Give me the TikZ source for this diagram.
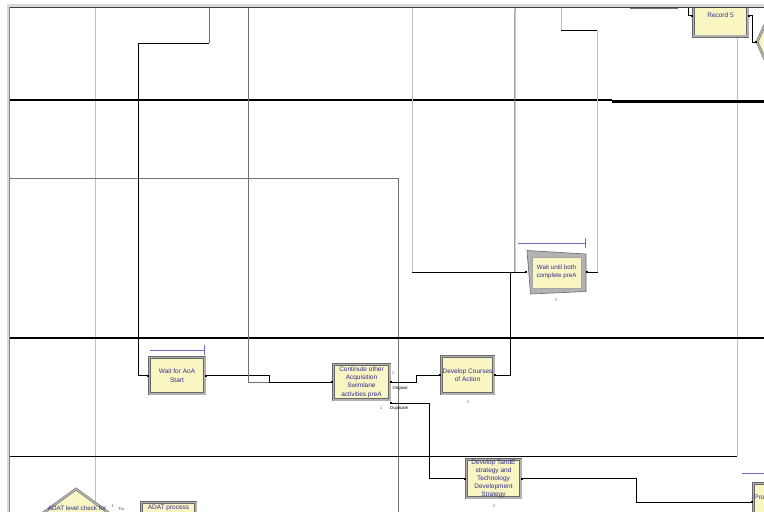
\documentclass[tikz,border=0pt]{standalone}
\usepackage{fontspec}
\setmainfont{Liberation Sans}
\usetikzlibrary{arrows.meta,calc}
\definecolor{boxfill}{RGB}{250,246,196}
\definecolor{boxedge}{RGB}{105,105,105}
\definecolor{boxmid}{RGB}{178,178,178}
\definecolor{txtblue}{RGB}{45,45,140}
\definecolor{qblue}{RGB}{110,110,200}
\definecolor{cntred}{RGB}{210,90,90}
\definecolor{lightln}{RGB}{192,192,192}
\definecolor{midln}{RGB}{115,115,115}
\definecolor{band}{RGB}{218,218,218}
\tikzset{
  modbox/.style={rectangle, fill=boxfill, draw=boxedge, double=boxmid, double distance=1.6pt,
    line width=0.5pt, inner sep=0pt, text=txtblue, font=\fontsize{6.5}{8}\selectfont, align=center},
  cline/.style={draw=black, line width=0.75pt},
  conn/.style={cline, arrows={-Square[length=1.8pt,width=1.8pt]}},
  connboth/.style={cline, arrows={Square[length=1.8pt,width=1.8pt]-Square[length=1.8pt,width=1.8pt]}},
  lane/.style={line width=1pt},
  qline/.style={draw=qblue, line width=0.8pt},
  cnt/.style={text=cntred, font=\fontsize{4}{4}\selectfont, inner sep=0pt},
  one/.style={text=qblue, font=\fontsize{4.5}{5}\selectfont, inner sep=0pt},
  tiny/.style={text=black, font=\fontsize{4.3}{5}\selectfont, inner sep=0pt, anchor=west},
}
\begin{document}
\begin{tikzpicture}[x=1pt,y=-1pt]
\useasboundingbox (0,0) rectangle (764,512);
\clip (0,0) rectangle (764,512);
\fill[white] (0,0) rectangle (764,512);

% swimlane lines
\draw[lightln, lane] (95,7) -- (95,512);
\draw[midln, lane] (10,178) -- (398,178) -- (398,512);
\draw[lightln, lane] (737,7) -- (737,456);
\draw[black, line width=0.8pt] (10,456) -- (737,456);
\draw[black, line width=2.2pt] (10,100) -- (612,100);
\draw[black, line width=2.2pt] (612,101.5) -- (764,101.5);
\draw[black, line width=2.2pt] (10,338) -- (764,338);
\draw[midln, line width=2pt] (630,7.5) -- (678,7.5);

% free connector ends at the top
\coordinate (t1) at (209,7);
\coordinate (t2) at (248,7);
\coordinate (t3) at (412,7);
\coordinate (t4) at (515,7);
\coordinate (t5) at (561,7);
\coordinate (t6) at (688,7);

% modules
\node[modbox, minimum width=55.4pt, minimum height=36.4pt, font=\fontsize{6.5}{9.5}\selectfont] (waitaoa) at (177,375.5) {Wait for AoA\\Start};
\node[modbox, minimum width=56.4pt, minimum height=35.4pt, font=\fontsize{6.5}{8.3}\selectfont] (cont) at (361.5,382) {Continute other\\Acquisition\\Swimlane\\activities preA};
\node[modbox, minimum width=52.4pt, minimum height=37.4pt] (devca) at (467.5,375) {Develop Courses\\of Action};
\node[modbox, minimum width=54.4pt, minimum height=38.4pt] (devte) at (493.5,478.5) {Develop TandE\\strategy and\\Technology\\Development\\Strategy};
\node[modbox, minimum width=54.4pt, minimum height=41.4pt] (rec5) at (720.5,15.5) {Record 5};
\node[modbox, minimum width=55.4pt, minimum height=37.4pt] (pro) at (781,502) {};
\node[anchor=west, inner sep=0pt, text=txtblue, font=\fontsize{6.5}{8}\selectfont] (protxt) at (754,497.5) {Pro};
\node[modbox, minimum width=54.4pt, minimum height=37.4pt] (adatp) at (168.5,521) {};
\node[inner sep=0pt, text=txtblue, font=\fontsize{6.5}{8}\selectfont] (adatptxt) at (168.5,508.3) {ADAT process};

% hold module (slanted)
\filldraw[fill=boxmid, draw=boxedge, line width=0.6pt] (527,250.5) -- (586,254) -- (586,291.5) -- (530.5,294) -- cycle;
\filldraw[fill=boxfill, draw=boxedge!60, line width=0.4pt] (532.5,257.5) rectangle (581.5,288);
\node[inner sep=0pt, minimum width=59pt, minimum height=42pt, text=txtblue, font=\fontsize{6.2}{7.5}\selectfont, align=center] (waitboth) at (556.5,272) {Wait until both\\complete preA};

% decide modules
\filldraw[fill=boxfill, draw=boxedge, double=boxmid, double distance=1.6pt, line width=0.5pt] (757,42) -- (768,18) -- (790,18) -- (790,66) -- (768,66) -- cycle;
\coordinate (dec) at (757,42);
\filldraw[fill=boxfill, draw=boxedge, double=boxmid, double distance=1.6pt, line width=0.5pt] (76,489) -- (113,516) -- (76,543) -- (39,516) -- cycle;
\node[inner sep=0pt, text=txtblue, font=\fontsize{6.3}{7}\selectfont] (adatd) at (77,508.5) {ADAT level check for};
\node[one] (one3) at (113,505.5) {1};
\node[tiny, text=black!70] (tru) at (118,508.8) {Tru};

% queues
\draw[qline] ($(waitaoa.north west)+(1,-7)$) -- ($(waitaoa.north east)+(-1,-7)$);
\draw[qline] ($(waitaoa.north east)+(-1,-12)$) -- ($(waitaoa.north east)+(-1,-2)$);
\draw[qline] (518,243) -- (585,243);
\draw[qline] (585,238) -- (585,248);
\draw[qline] (742,473) -- (764,473);

% counters and labels
\node[cnt] at (556,300) {0};
\node[cnt] at (468,402) {0};
\node[cnt] at (494,506) {0};
\node[one] at (393,373) {1};
\node[one] at (381,408) {1};
\node[tiny] (orig) at (392.5,388.5) {Original};
\node[tiny] (dup) at (390,408.5) {Duplicate};

% connectors
\draw[midln, line width=0.8pt] (t1) -- (209,43);
\draw[conn] (209,43) -| ($(waitaoa.west)+(-11,0)$) -- (waitaoa.west);
\draw[connboth] (waitaoa.east) -| ($(cont.west)+(-64,0)$) -- (cont.west);
\draw[midln, line width=0.8pt] (t2) |- ($(cont.west)+(-64,0)$);
\draw[connboth] (cont.east) -| ($(devca.west)+(-25,0)$) -- (devca.west);
\draw[connboth] ($(cont.south east)+(0,3)$) -| ($(devte.west)+(-37,0)$) -- (devte.west);
\draw[connboth] (devca.east) -| ($(waitboth.west)+(-16,0)$) -- (waitboth.west);
\draw[lightln, line width=1pt] (t3) |- ($(waitboth.west)+(-115,0)$);
\draw[conn] ($(waitboth.west)+(-115,0)$) -- (waitboth.west);
\draw[midln, line width=1pt] (t4) -- ($(waitboth.west)+(-12,0)$);
\draw[lightln, line width=1pt] (waitboth.east) -| (597,30) -| (t5);
\draw[cline, arrows={Square[length=1.8pt,width=1.8pt]-}] (waitboth.east) -- ++(12,0);
\draw[cline] (597,30) -- (561,30);
\draw[connboth] (devte.east) -- ++(115,0) |- (pro.west);
\draw[conn] (t6) |- (rec5.west);
\draw[connboth] (rec5.east) -- ++(4,0) |- (dec);

% window frame
\fill[white] (0,0) rectangle (764,4);
\fill[band] (0,4) rectangle (764,6.6);
\draw[black!75, line width=0.9pt] (9.5,7) -- (764,7);
\fill[white] (0,0) rectangle (7,512);
\fill[band] (7,4) rectangle (9.2,512);
\draw[black!50, line width=0.9pt] (9.8,7) -- (9.8,512);
\end{tikzpicture}
\end{document}
